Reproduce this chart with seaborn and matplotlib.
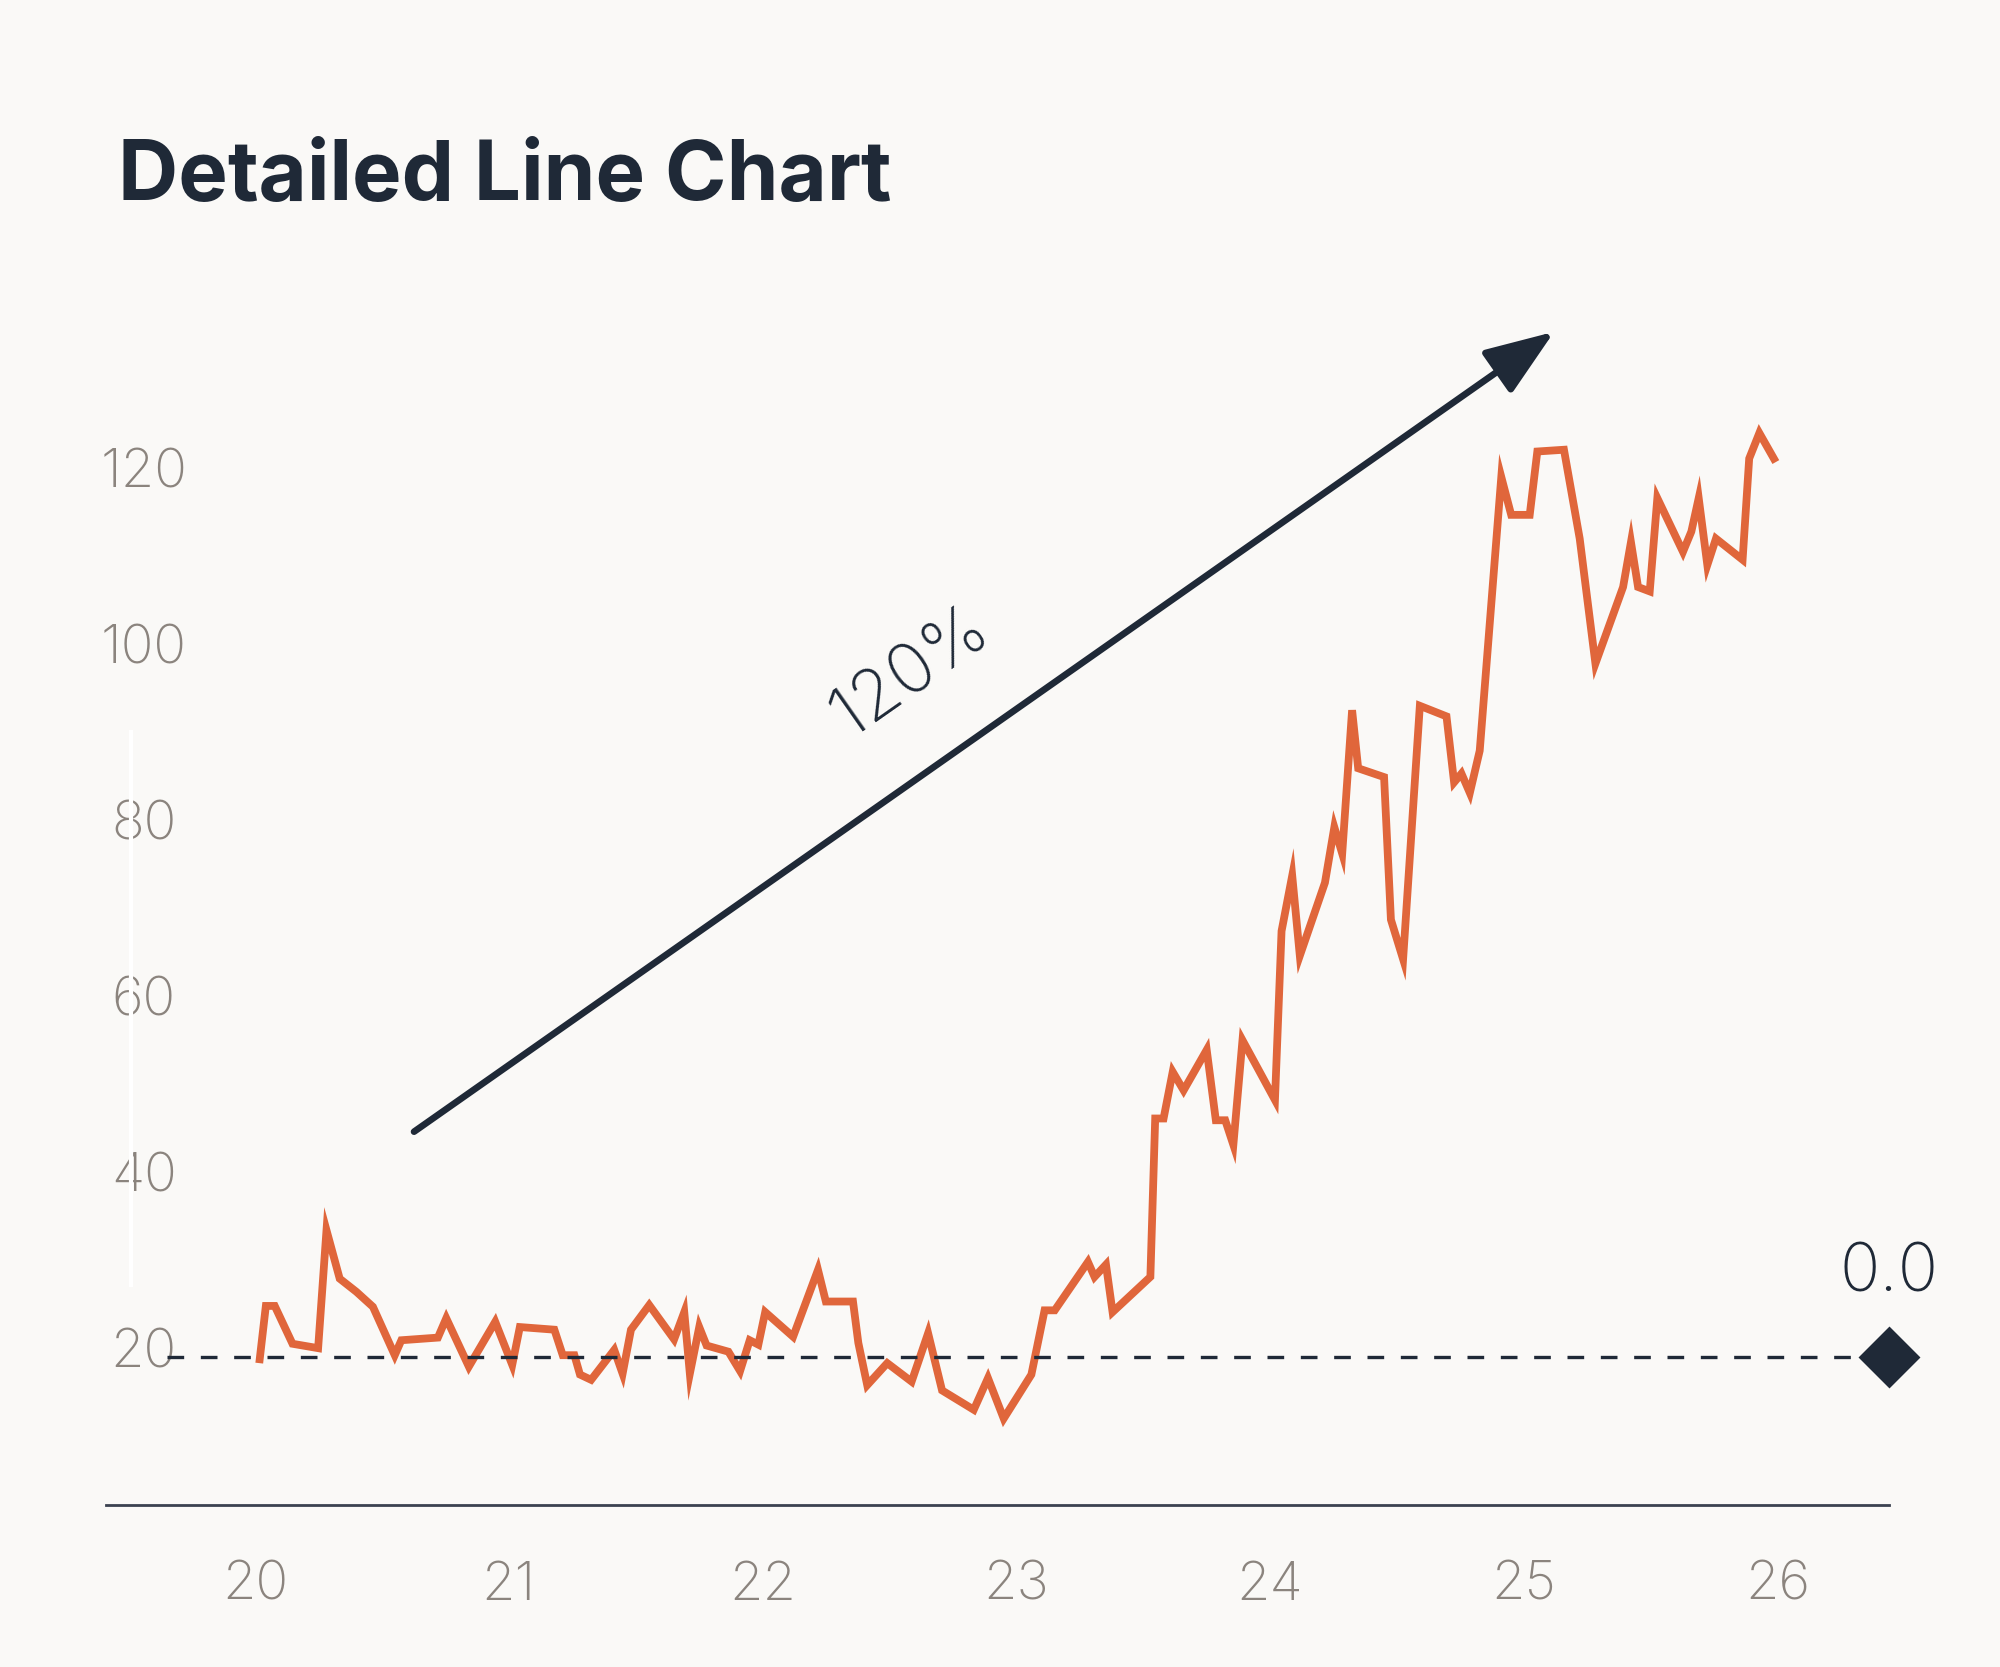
import matplotlib
matplotlib.use("Agg")
import matplotlib.pyplot as plt
import seaborn as sns
import pandas as pd

# ---------------- data ----------------
years = [20.017, 20.043, 20.078, 20.148, 20.249, 20.282, 20.334, 20.400, 20.465, 20.551,
         20.577, 20.721, 20.754, 20.843, 20.947, 21.014, 21.044, 21.180, 21.213, 21.259,
         21.281, 21.325, 21.416, 21.449, 21.482, 21.554, 21.652, 21.692, 21.714, 21.751,
         21.780, 21.866, 21.912, 21.950, 21.984, 22.011, 22.121, 22.219, 22.250, 22.357,
         22.378, 22.413, 22.492, 22.588, 22.653, 22.708, 22.833, 22.889, 22.951, 23.060,
         23.112, 23.152, 23.283, 23.309, 23.354, 23.380, 23.529, 23.548, 23.581, 23.617,
         23.660, 23.751, 23.787, 23.824, 23.856, 23.892, 24.020, 24.046, 24.088, 24.118,
         24.217, 24.254, 24.285, 24.324, 24.348, 24.450, 24.477, 24.525, 24.591, 24.696,
         24.726, 24.755, 24.788, 24.827, 24.912, 24.951, 25.024, 25.054, 25.159, 25.221,
         25.283, 25.392, 25.423, 25.451, 25.497, 25.527, 25.628, 25.661, 25.690, 25.724,
         25.758, 25.863, 25.889, 25.929, 25.994]
values = [18.3, 24.8, 24.8, 20.5, 20.0, 33.4, 27.9, 26.4, 24.7, 19.2,
          20.9, 21.2, 23.4, 17.9, 23.0, 18.1, 22.4, 22.1, 19.2, 19.2,
          17.0, 16.4, 19.8, 17.1, 22.1, 24.9, 21.0, 24.1, 17.1, 22.4,
          20.3, 19.6, 17.4, 20.9, 20.4, 24.1, 21.3, 28.9, 25.3, 25.3,
          20.6, 15.8, 18.3, 16.2, 21.7, 15.2, 13.0, 16.6, 12.0, 17.0,
          24.3, 24.3, 29.8, 28.1, 29.5, 24.1, 28.1, 46.1, 46.1, 51.4,
          49.3, 53.9, 45.9, 45.9, 43.1, 55.0, 48.2, 67.4, 73.7, 64.6,
          72.9, 79.2, 76.2, 92.5, 85.9, 84.9, 68.7, 64.2, 93.0, 91.8,
          84.3, 85.3, 83.1, 87.9, 119.0, 114.7, 114.7, 121.9, 122.1, 112.0,
          97.8, 106.5, 111.6, 106.5, 106.0, 116.6, 110.5, 112.8, 116.6, 109.0,
          112.0, 109.6, 121.1, 124.0, 120.7]

title = "Detailed Line Chart"
x_ticks = [20, 21, 22, 23, 24, 25, 26]
x_tick_labels = ["20", "21", "22", "23", "24", "25", "26"]
y_ticks = [20, 40, 60, 80, 100, 120]
y_tick_labels = ["20", "40", "60", "80", "100", "120"]

baseline_value = 19.0
baseline_label = "0.0"
arrow_start = (20.627, 44.6)
arrow_end = (25.12, 135.5)
arrow_label = "120%"
arrow_label_pos = (22.584, 96.7)

x_limits = (19.413, 26.44)
y_limits = (2.18, 140.0)

# ---------------- style ----------------
BG = "#faf9f7"
ORANGE = "#e0663b"
NAVY = "#1f2937"
GRAY = "#8b847e"

sns.set_theme(style="white")
plt.rcParams["font.family"] = ["Inter", "DejaVu Sans"]

fig = plt.figure(figsize=(10, 8.335), dpi=200, facecolor=BG)
ax = fig.add_axes([0.053, 0.0972, 0.8915, 0.7275])
ax.set_facecolor(BG)

df = pd.DataFrame({"year": years, "value": values})
sns.lineplot(data=df, x="year", y="value", ax=ax, color=ORANGE, linewidth=2.8,
             solid_joinstyle="miter", solid_capstyle="butt")

ax.set_xlim(*x_limits)
ax.set_ylim(*y_limits)

# dashed baseline with diamond marker at the right edge
ax.axhline(baseline_value, xmin=0.034, xmax=1.0, color=NAVY, linewidth=1.2,
           linestyle=(0, (5, 5)), zorder=3)
ax.plot([x_limits[1]], [baseline_value], marker="D", markersize=15, color=NAVY,
        clip_on=False, zorder=5)
ax.annotate(baseline_label, (x_limits[1], baseline_value), xytext=(0, 30),
            textcoords="offset points", ha="center", va="center", fontsize=24,
            color=NAVY, fontweight="light", annotation_clip=False)

# trend arrow
ax.annotate("", xy=arrow_end, xytext=arrow_start,
            arrowprops=dict(arrowstyle="-|>,head_length=0.4,head_width=0.15",
                            mutation_scale=53, lw=2.4, color=NAVY,
                            shrinkA=0, shrinkB=0),
            annotation_clip=False)
ax.text(arrow_label_pos[0], arrow_label_pos[1], arrow_label, rotation=35,
        rotation_mode="anchor", ha="center", va="center", fontsize=25.5,
        color=NAVY, fontweight="light")

# axes styling
for s in ["top", "right"]:
    ax.spines[s].set_visible(False)
ax.spines["bottom"].set_color("#3b4250")
ax.spines["bottom"].set_linewidth(1.0)
ax.spines["left"].set_color("white")
ax.spines["left"].set_linewidth(1.5)
ax.spines["left"].set_position(("axes", 0.014))
ax.spines["left"].set_bounds(27.2, 90.0)

ax.set_xticks(x_ticks)
ax.set_xticklabels(x_tick_labels)
ax.set_yticks(y_ticks)
ax.set_yticklabels(y_tick_labels)
ax.tick_params(axis="both", length=0, labelsize=19.5, labelcolor=GRAY)
ax.tick_params(axis="x", pad=20)
ax.tick_params(axis="y", pad=-4.6)
for lab in ax.get_yticklabels():
    lab.set_ha("center")
    lab.set_fontweight("light")
for lab in ax.get_xticklabels():
    lab.set_fontweight("light")
ax.set_xlabel("")
ax.set_ylabel("")
ax.grid(False)

fig.text(0.059, 0.880, title, ha="left", va="baseline", fontsize=30,
         fontweight="bold", color=NAVY)

fig.savefig("out.png", dpi=200, facecolor=BG)
